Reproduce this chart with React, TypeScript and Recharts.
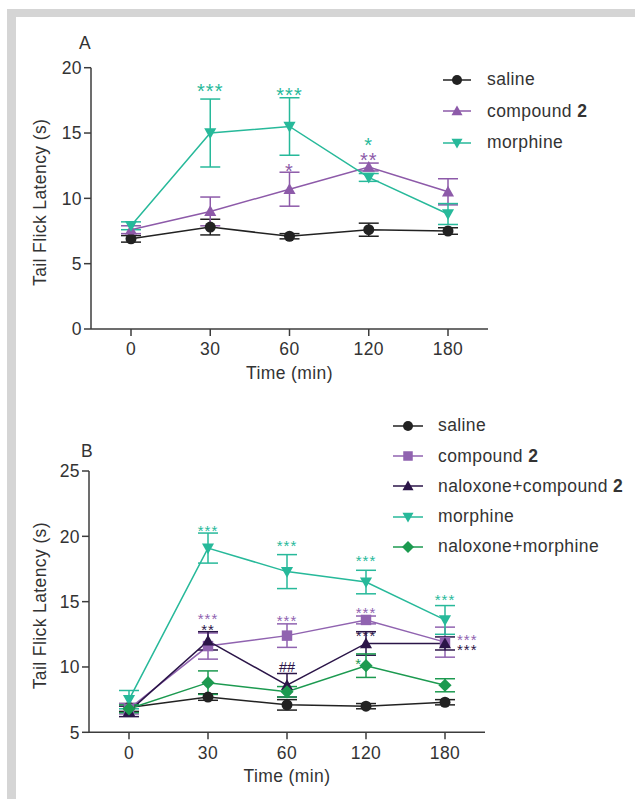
import React from "react";
import { LineChart, Line, XAxis, YAxis, ErrorBar, ReferenceDot, Legend } from "recharts";

const times = ["0", "30", "60", "120", "180"];

// panel A
const salineA = [6.9, 7.8, 7.1, 7.6, 7.5];
const salineAErr = [0.25, 0.6, 0.2, 0.5, 0.25];
const compoundA = [7.6, 9.0, 10.7, 12.4, 10.5];
const compoundAErr = [0.3, 1.1, 1.3, 0.3, 1.0];
const morphineA = [7.9, 15.0, 15.5, 11.6, 8.8];
const morphineAErr = [0.3, 2.6, 2.2, 0.3, 0.8];

// panel B
const salineB = [6.9, 7.7, 7.1, 7.0, 7.3];
const salineBErr = [0.3, 0.25, 0.4, 0.2, 0.2];
const compoundB = [6.8, 11.6, 12.4, 13.6, 11.9];
const compoundBErr = [0.4, 1.0, 0.9, 0.3, 1.15];
const naloxCompoundB = [6.6, 12.0, 8.6, 11.8, 11.8];
const naloxCompoundBErr = [0.4, 0.7, 0.9, 0.9, 0.5];
const morphineB = [7.5, 19.1, 17.3, 16.5, 13.6];
const morphineBErr = [0.7, 1.15, 1.3, 0.9, 1.1];
const naloxMorphineB = [6.8, 8.8, 8.1, 10.1, 8.6];
const naloxMorphineBErr = [0.3, 0.9, 0.4, 0.9, 0.5];

const ticksA = [0, 5, 10, 15, 20];
const ticksB = [5, 10, 15, 20, 25];

// significance marks (y, in seconds)
const marksA = [
  { time: "30", y: 18.6, text: "***", series: "morphine" },
  { time: "60", y: 18.3, text: "***", series: "morphine" },
  { time: "60", y: 12.5, text: "*", series: "compound" },
  { time: "120", y: 14.5, text: "*", series: "morphine" },
  { time: "120", y: 13.35, text: "**", series: "compound" },
];
const marksB = [
  { time: "30", y: 20.75, text: "***", series: "morphine" },
  { time: "30", y: 14.0, text: "***", series: "compound" },
  { time: "30", y: 13.15, text: "**", series: "naloxCompound" },
  { time: "60", y: 19.55, text: "***", series: "morphine" },
  { time: "60", y: 13.85, text: "***", series: "compound" },
  { time: "60", y: 10.0, text: "##", series: "naloxCompound" },
  { time: "120", y: 18.45, text: "***", series: "morphine" },
  { time: "120", y: 14.45, text: "***", series: "compound" },
  { time: "120", y: 12.65, text: "***", series: "naloxCompound" },
  { time: "120", y: 10.55, text: "*", series: "naloxMorphine", align: "left" },
  { time: "180", y: 15.45, text: "***", series: "morphine" },
  { time: "180", y: 12.35, text: "***", series: "compound", align: "right" },
  { time: "180", y: 11.6, text: "***", series: "naloxCompound", align: "right" },
];

const TEXT = "#333";
const AXIS = "#3c3c3c";
const FONT = "'Liberation Sans', Arial, sans-serif";

const seriesA = [
  { key: "saline", name: "saline", color: "#222222", shape: "circle" },
  { key: "compound", name: "compound 2", color: "#8d5aa9", shape: "up" },
  { key: "morphine", name: "morphine", color: "#27b99a", shape: "down" },
];
const seriesB = [
  { key: "saline", name: "saline", color: "#222222", shape: "circle" },
  { key: "compound", name: "compound 2", color: "#9063b0", shape: "square" },
  { key: "naloxCompound", name: "naloxone+compound 2", color: "#2b1548", shape: "up" },
  { key: "morphine", name: "morphine", color: "#27b99a", shape: "down" },
  { key: "naloxMorphine", name: "naloxone+morphine", color: "#1c9a50", shape: "diamond" },
];

const dataA = times.map((t, i) => ({
  time: t,
  saline: salineA[i], salineErr: salineAErr[i],
  compound: compoundA[i], compoundErr: compoundAErr[i],
  morphine: morphineA[i], morphineErr: morphineAErr[i],
}));

const dataB = times.map((t, i) => ({
  time: t,
  saline: salineB[i], salineErr: salineBErr[i],
  compound: compoundB[i], compoundErr: compoundBErr[i],
  naloxCompound: naloxCompoundB[i], naloxCompoundErr: naloxCompoundBErr[i],
  morphine: morphineB[i], morphineErr: morphineBErr[i],
  naloxMorphine: naloxMorphineB[i], naloxMorphineErr: naloxMorphineBErr[i],
}));

function Marker({ shape, cx, cy, color, size }: any) {
  const h = size / 2;
  if (shape === "circle") return <circle cx={cx} cy={cy} r={h} fill={color} />;
  if (shape === "square") return <rect x={cx - h * 0.95} y={cy - h * 0.95} width={h * 1.9} height={h * 1.9} fill={color} />;
  if (shape === "diamond")
    return <polygon points={`${cx},${cy - h * 1.2} ${cx + h * 1.2},${cy} ${cx},${cy + h * 1.2} ${cx - h * 1.2},${cy}`} fill={color} />;
  if (shape === "up")
    return <polygon points={`${cx},${cy - h * 1.1} ${cx + h * 1.1},${cy + h * 0.85} ${cx - h * 1.1},${cy + h * 0.85}`} fill={color} />;
  return <polygon points={`${cx},${cy + h * 1.1} ${cx + h * 1.1},${cy - h * 0.85} ${cx - h * 1.1},${cy - h * 0.85}`} fill={color} />;
}

const dotFor = (shape: string, color: string) => (props: any) => {
  const { cx, cy, index } = props;
  if (cx == null || cy == null) return <g key={`d-${index}`} />;
  return <Marker key={`d-${shape}-${index}`} shape={shape} cx={cx} cy={cy} color={color} size={11} />;
};

function nameLabel(name: string) {
  if (name.endsWith(" 2")) {
    return (
      <>
        {name.slice(0, -1)}
        <b>2</b>
      </>
    );
  }
  return name;
}

// keep the legend in series order (recharts sorts the payload by name)
const legendFor = (series: any[], rowH: number, lineLen: number, gap: number) => (props: any) => {
  const payload = props.payload || [];
  return (
    <div>
      {series.map((s: any) => {
        const entry = payload.find((p: any) => p.dataKey === s.key);
        if (!entry) return null;
        return (
          <div key={s.key} style={{ display: "flex", alignItems: "center", height: rowH }}>
            <svg width={lineLen} height={14} style={{ display: "block" }}>
              <line x1={0} x2={lineLen} y1={7} y2={7} stroke={s.color} strokeWidth={1.5} />
              <Marker shape={s.shape} cx={lineLen / 2} cy={7} color={s.color} size={10} />
            </svg>
            <span style={{ marginLeft: gap, fontSize: 17.5, color: TEXT, whiteSpace: "nowrap", lineHeight: 1 }}>
              {nameLabel(entry.value)}
            </span>
          </div>
        );
      })}
    </div>
  );
};

const markShape = (text: string, color: string, size: number, align?: string) => (props: any) => {
  const { cx, cy } = props;
  const hash = text.includes("#");
  const fs = hash ? 14.5 : size;
  const shift = hash ? fs * 0.36 : fs * 0.6;
  let x = cx;
  let anchor = "middle";
  if (align === "right") {
    x = cx + 12;
    anchor = "start";
  } else if (align === "left") {
    x = cx - 4;
    anchor = "end";
  }
  return (
    <text x={x} y={cy + shift} fill={color} fontSize={fs} textAnchor={anchor} style={{ letterSpacing: hash ? 0 : 1 }}>
      {text}
    </text>
  );
};

const yTitle = (props: any) => {
  const vb = props.viewBox;
  const x = vb.x + 46.5;
  const y = vb.y + vb.height / 2 + 4;
  return (
    <text x={x} y={y} transform={`rotate(-90 ${x} ${y})`} textAnchor="middle" fontSize={17.5} fill={TEXT}>
      Tail Flick Latency (s)
    </text>
  );
};

const xTitle = (props: any) => {
  const vb = props.viewBox;
  return (
    <text x={vb.x + vb.width / 2} y={vb.y + 50} textAnchor="middle" fontSize={17.5} fill={TEXT}>
      Time (min)
    </text>
  );
};

function Panel({ data, series, marks, ticks, yWidth, margin, height, legendPos, rowH, lineLen, gap, markSize }: any) {
  const colorOf = (k: string) => series.find((s: any) => s.key === k).color;
  return (
    <LineChart width={635} height={height} data={data} margin={margin}>
      <XAxis
        dataKey="time"
        type="category"
        interval={0}
        padding={{ left: 40, right: 40 }}
        height={60}
        tickSize={7}
        tickMargin={7}
        axisLine={{ stroke: AXIS, strokeWidth: 1.5 }}
        tickLine={{ stroke: AXIS, strokeWidth: 1.5 }}
        tick={{ fontSize: 17.5, fill: TEXT }}
        label={{ content: xTitle }}
      />
      <YAxis
        type="number"
        domain={[ticks[0], ticks[ticks.length - 1]]}
        ticks={ticks}
        width={yWidth}
        tickSize={7}
        tickMargin={2}
        axisLine={{ stroke: AXIS, strokeWidth: 1.5 }}
        tickLine={{ stroke: AXIS, strokeWidth: 1.5 }}
        tick={{ fontSize: 17.5, fill: TEXT }}
        label={{ content: yTitle }}
      />
      <Legend
        layout="vertical"
        align="center"
        verticalAlign="middle"
        wrapperStyle={{ top: legendPos.top, left: legendPos.left, width: 240 }}
        content={legendFor(series, rowH, lineLen, gap)}
      />
      {series.map((s: any) => (
        <Line
          key={s.key}
          dataKey={s.key}
          name={s.name}
          stroke={s.color}
          strokeWidth={1.5}
          dot={dotFor(s.shape, s.color)}
          activeDot={false}
          isAnimationActive={false}
        >
          <ErrorBar dataKey={`${s.key}Err`} width={10} strokeWidth={1.5} stroke={s.color} direction="y" />
        </Line>
      ))}
      {marks.map((m: any, i: number) => (
        <ReferenceDot
          key={`m-${i}`}
          x={m.time}
          y={m.y}
          r={0}
          ifOverflow="visible"
          shape={markShape(m.text, colorOf(m.series), markSize, m.align)}
        />
      ))}
    </LineChart>
  );
}

export default function App() {
  return (
    <div
      style={{
        position: "absolute",
        left: 0,
        top: 0,
        width: 635,
        height: 799,
        background: "#fff",
        fontFamily: FONT,
        letterSpacing: "0.4px",
        color: TEXT,
        overflow: "hidden",
      }}
    >
      <div style={{ position: "absolute", left: 7, top: 9, width: 628, height: 8, background: "#d5d5d5" }} />
      <div style={{ position: "absolute", left: 7, top: 9, width: 9, height: 790, background: "#d5d5d5" }} />

      <div style={{ position: "absolute", left: 79, top: 34.5, fontSize: 17.5, lineHeight: 1 }}>A</div>
      <div style={{ position: "absolute", left: 81, top: 443, fontSize: 17.5, lineHeight: 1 }}>B</div>

      <div style={{ position: "absolute", left: 0, top: 0 }}>
        <Panel
          data={dataA}
          series={seriesA}
          marks={marksA}
          ticks={ticksA}
          yWidth={91}
          height={400}
          margin={{ top: 67.7, right: 147, bottom: 11, left: 0 }}
          legendPos={{ top: 64.5, left: 443 }}
          rowH={31.3}
          lineLen={28}
          gap={16}
          markSize={20}
        />
      </div>

      <div style={{ position: "absolute", left: 0, top: 400 }}>
        <Panel
          data={dataB}
          series={seriesB}
          marks={marksB}
          ticks={ticksB}
          yWidth={89}
          height={399}
          margin={{ top: 71, right: 150, bottom: 6.7, left: 0 }}
          legendPos={{ top: 11, left: 393 }}
          rowH={30.2}
          lineLen={30}
          gap={15}
          markSize={15}
        />
      </div>
    </div>
  );
}
